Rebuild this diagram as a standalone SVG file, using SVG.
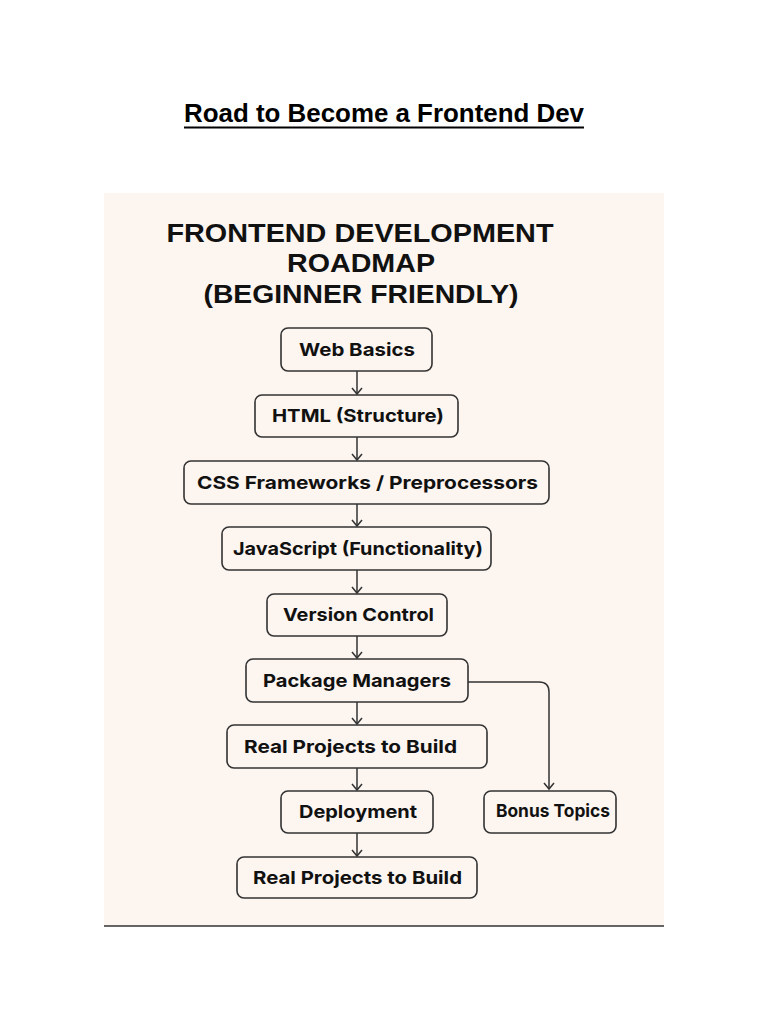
<svg xmlns="http://www.w3.org/2000/svg" width="768" height="1024" viewBox="0 0 768 1024">
<defs>
<style>
.node rect{fill:none;stroke:#333;stroke-width:1.6}
.node text{font-family:Inter,"Liberation Sans",sans-serif;font-weight:700;font-size:18px;fill:#111;text-anchor:middle}
.head{font-family:"Liberation Sans",Arial,sans-serif;font-weight:700;font-size:26px;fill:#111;text-anchor:middle}
.conn{fill:none;stroke:#333;stroke-width:1.5}
</style>
<marker id="arr" viewBox="0 0 12 12" refX="10" refY="6" markerWidth="12" markerHeight="12" markerUnits="userSpaceOnUse" orient="auto">
<path d="M4,1 L10,6 L4,11" fill="none" stroke="#333" stroke-width="1.5"/>
</marker>
</defs>
<rect width="768" height="1024" fill="#fff"/>
<text x="384" y="122" font-family="'Liberation Sans',sans-serif" font-weight="700" font-size="26" text-anchor="middle" textLength="400" lengthAdjust="spacingAndGlyphs" fill="#000">Road to Become a Frontend Dev</text>
<line x1="184" y1="127.5" x2="584" y2="127.5" stroke="#000" stroke-width="1.8"/>
<rect x="104" y="193" width="560" height="733" fill="#fcf5f0"/>
<line x1="104" y1="926" x2="664" y2="926" stroke="#333" stroke-width="1.5"/>
<text class="head" x="360" y="242" textLength="387" lengthAdjust="spacingAndGlyphs">FRONTEND DEVELOPMENT</text>
<text class="head" x="361" y="272" textLength="148" lengthAdjust="spacingAndGlyphs">ROADMAP</text>
<text class="head" x="361" y="303" textLength="315" lengthAdjust="spacingAndGlyphs">(BEGINNER FRIENDLY)</text>
<g id="connectors">
<line class="conn" x1="357" y1="371" x2="357" y2="394" marker-end="url(#arr)"/>
<line class="conn" x1="357" y1="437" x2="357" y2="460" marker-end="url(#arr)"/>
<line class="conn" x1="357" y1="504" x2="357" y2="526" marker-end="url(#arr)"/>
<line class="conn" x1="357" y1="570" x2="357" y2="593" marker-end="url(#arr)"/>
<line class="conn" x1="357" y1="636" x2="357" y2="658" marker-end="url(#arr)"/>
<line class="conn" x1="357" y1="702" x2="357" y2="724" marker-end="url(#arr)"/>
<line class="conn" x1="357" y1="768" x2="357" y2="790" marker-end="url(#arr)"/>
<line class="conn" x1="357" y1="833" x2="357" y2="856" marker-end="url(#arr)"/>
<path class="conn" d="M468,682 H539 Q549,682 549,692 V789" marker-end="url(#arr)"/>
</g>
<g id="web-basics" class="node"><rect x="281" y="328" width="151" height="43" rx="7"/><text x="357" y="356" textLength="116" lengthAdjust="spacingAndGlyphs">Web Basics</text></g>
<g id="html" class="node"><rect x="255" y="395" width="203" height="42" rx="7"/><text x="358" y="422" textLength="172" lengthAdjust="spacingAndGlyphs">HTML (Structure)</text></g>
<g id="css" class="node"><rect x="184" y="461" width="365" height="43" rx="7"/><text x="367.5" y="489" textLength="341" lengthAdjust="spacingAndGlyphs">CSS Frameworks  /  Preprocessors</text></g>
<g id="javascript" class="node"><rect x="222" y="527" width="269" height="43" rx="7"/><text x="358" y="555" textLength="250" lengthAdjust="spacingAndGlyphs">JavaScript (Functionality)</text></g>
<g id="version-control" class="node"><rect x="267" y="594" width="180" height="42" rx="7"/><text x="358.5" y="621" textLength="151" lengthAdjust="spacingAndGlyphs">Version Control</text></g>
<g id="package-managers" class="node"><rect x="246" y="659" width="222" height="43" rx="7"/><text x="357" y="687" textLength="188" lengthAdjust="spacingAndGlyphs">Package Managers</text></g>
<g id="real-projects-1" class="node"><rect x="227" y="725" width="260" height="43" rx="7"/><text x="350.5" y="753" textLength="213" lengthAdjust="spacingAndGlyphs">Real Projects to Build</text></g>
<g id="deployment" class="node"><rect x="281" y="791" width="152" height="42" rx="7"/><text x="358" y="818" textLength="118" lengthAdjust="spacingAndGlyphs">Deployment</text></g>
<g id="bonus-topics" class="node"><rect x="484" y="791" width="132" height="42" rx="7"/><text x="553" y="817" textLength="114" lengthAdjust="spacingAndGlyphs">Bonus Topics</text></g>
<g id="real-projects-2" class="node"><rect x="237" y="857" width="240" height="41" rx="7"/><text x="357.5" y="884" textLength="209" lengthAdjust="spacingAndGlyphs">Real Projects to Build</text></g>
</svg>
